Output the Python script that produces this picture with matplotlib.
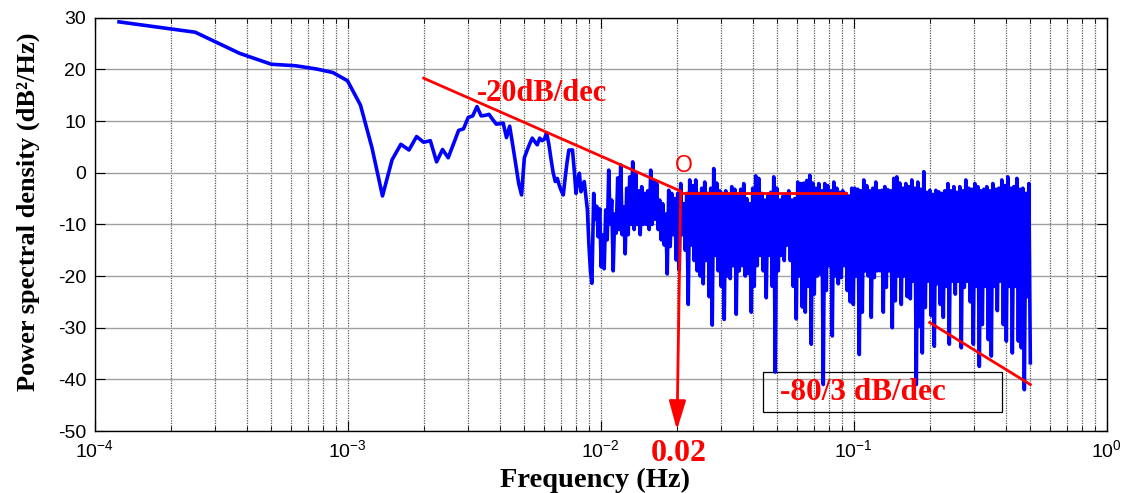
import numpy as np
import matplotlib
matplotlib.use("Agg")
import matplotlib.pyplot as plt
from matplotlib.patches import Rectangle, FancyArrowPatch
from matplotlib.ticker import LogLocator, NullFormatter
from matplotlib.transforms import blended_transform_factory

plt.rcParams["font.family"] = ["Liberation Sans", "DejaVu Sans"]
plt.rcParams["mathtext.fontset"] = "custom"
plt.rcParams["mathtext.rm"] = "Liberation Sans"
plt.rcParams["mathtext.it"] = "Liberation Sans:italic"
plt.rcParams["mathtext.bf"] = "Liberation Sans:bold"
plt.rcParams["axes.unicode_minus"] = False
plt.rcParams["path.simplify"] = False  # keep every peak/trough of the dense spectrum

# ---------------------------------------------------------------- data
DF = 1.25e-4  # frequency resolution of the periodogram (Hz)

# resolved part of the spectrum, one value per bin (bins 1..74), dB^2/Hz
psd_low_db = [
    29.2, 27.2, 23.1, 21.0, 20.7, 20.1, 19.4, 17.8, 13.1, 4.8,
    -4.5, 2.5, 5.5, 4.4, 7.0, 5.9, 6.2, 2.1, 4.5, 2.9,
    5.6, 8.2, 8.5, 10.7, 11.0, 12.8, 11.0, 11.1, 11.3, 10.3,
    9.4, 9.5, 9.6, 6.8, 9.0, 5.3, 1.6, -2.1, -4.3, 2.9,
    4.3, 5.6, 6.7, 6.0, 5.4, 6.7, 6.2, 6.5, 7.7, 5.5,
    2.6, 0.0, -1.7, -1.1, -2.5, -3.5, -4.3, -1.0, 2.0, 4.4,
    4.4, 4.4, 0.5, -4.0, -1.5, -0.1, -3.7, -2.7, -1.7, -4.5,
    -7.2, -14.0, -19.0, -21.4,
]

# dense part (0.0094 .. 0.5 Hz): alternating local maxima / minima
band_f_start, band_f_stop = 0.0094, 0.5
band_peak_db = [
    -4.0, -6.5, -7.0, -12.0, -7.2, 0.5, -5.3, -8.0, -1.0, 1.5,
    -6.6, -3.0, -0.8, 2.1, 0.0, -3.5, -2.7, -4.0, -3.5, 0.5,
    -1.5, -2.1, -5.3, -6.0, -8.0, -3.4, -4.0, -5.0, -4.0, -2.1,
    -6.0, -4.0, -1.4,
    -2.5, -1.4, -4.0, -3.0, -1.8, -4.0, -3.0, 0.8, -2.0, -3.5,
    -4.0, -3.5, -4.2, -2.7, -3.2, -4.5, -3.2, -2.1, -5.0, -6.0,
    -3.0, -0.6, -1.1, -4.0, -5.3, -4.5, -3.8, -0.8, -3.0, -5.3,
    -4.6, -4.5, -3.5, -5.3, -5.0, -1.8, -2.1,
    -2.0, -1.5, -0.5, -2.0, -3.0, -2.1, -3.5, -2.1, -2.5, -3.5,
    -1.8, -3.0, -3.8, -3.5, -4.0, -4.5, -3.0, -3.0, -3.2, -3.5,
    -1.4, -2.5, -3.5, -3.0, -1.8, -3.5, -3.4, -2.7, -3.3, -3.5,
    -1.1, -0.8, -2.0, -3.0, -2.1,
    -2.7, -1.4, -3.0, -1.8, -3.2, 0.2, -3.8, -3.4, -4.2, -3.4,
    -3.7, -4.0, -3.5, -2.1, -3.5, -2.7, -3.8, -2.7, -3.5, -1.4,
    -3.0, -3.2, -2.1, -2.7, -3.5, -3.2, -2.7, -3.5, -2.1, -3.2,
    -3.0, -1.4, -2.5, -0.8, -3.0, -2.7, -1.1, -3.2, -3.0, -4.0,
    -2.1,
]
band_trough_db = [
    -9.0, -12.4, -18.2, -18.6, -13.0, -10.0, -19.0, -11.7, -11.0, -12.0,
    -15.7, -12.0, -10.0, -11.0, -10.0, -12.0, -10.0, -10.0, -11.0, -10.0,
    -9.0, -11.0, -13.0, -14.0, -19.6, -14.3, -12.0, -16.9, -18.8, -12.0,
    -15.0, -25.5, -14.0,
    -17.0, -19.0, -20.0, -21.5, -17.0, -24.0, -29.5, -16.0, -19.0, -22.0,
    -28.4, -20.0, -20.5, -18.0, -27.4, -19.0, -18.0, -20.0, -19.5, -27.0,
    -22.0, -18.0, -16.0, -19.0, -24.2, -16.0, -22.0, -38.6, -19.0, -16.0,
    -17.0, -14.0, -17.0, -22.0, -28.3, -20.0, -26.0,
    -27.0, -22.0, -33.2, -23.5, -20.0, -19.6, -41.0, -22.8, -18.0, -31.6,
    -20.0, -21.5, -20.3, -18.0, -22.8, -25.0, -25.5, -20.0, -35.2, -27.0,
    -19.0, -20.0, -28.0, -20.3, -19.0, -19.0, -27.0, -22.2, -19.0, -30.0,
    -24.8, -20.0, -25.5, -20.0, -24.0,
    -24.4, -21.0, -41.0, -29.7, -34.9, -26.1, -21.0, -27.7, -33.6, -21.5,
    -25.5, -28.0, -22.0, -33.2, -21.0, -23.5, -21.0, -33.9, -22.2, -21.0,
    -25.0, -33.2, -22.0, -37.5, -29.4, -22.0, -32.3, -35.5, -22.0, -26.7,
    -21.0, -29.4, -32.6, -22.0, -34.9, -22.0, -32.6, -33.9, -42.0, -24.0,
    -36.8,
]

# asymptotes drawn on the spectrum
slope20_f, slope20_db = [0.002, 0.0207], [18.3, -3.55]
flat_f, flat_db = [0.0209, 0.0933], [-3.9, -3.9]
slope80_f, slope80_db = [0.2, 0.5], [-29.0, -41.0]
corner_f = 0.02

x_ticks_decades = [1e-4, 1e-3, 1e-2, 1e-1, 1e0]
y_ticks = [-50, -40, -30, -20, -10, 0, 10, 20, 30]

# ---------------------------------------------------------------- assemble spectrum
f_low = np.arange(1, len(psd_low_db) + 1) * DF
n_band = len(band_peak_db)
f_band = np.geomspace(band_f_start, band_f_stop, 2 * n_band)
band_db = np.empty(2 * n_band)
band_db[0::2] = band_peak_db
band_db[1::2] = band_trough_db
freq = np.concatenate([f_low, f_band])
psd = np.concatenate([psd_low_db, band_db])

# ---------------------------------------------------------------- figure
fig = plt.figure(figsize=(11.28, 4.93), dpi=100)
ax = fig.add_axes([94.5 / 1128, 62 / 493, 1012 / 1128, 413.25 / 493])

ax.set_xscale("log")
ax.set_xlim(1e-4, 1)
ax.set_ylim(-50, 30)
ax.set_xticks(x_ticks_decades)
ax.set_yticks(y_ticks)
ax.xaxis.set_minor_locator(LogLocator(base=10, subs=np.arange(2, 10), numticks=100))
ax.xaxis.set_minor_formatter(NullFormatter())

ax.grid(True, which="both", axis="x", color="#5a5a5a", ls=(0, (1, 1)), lw=0.9)
ax.grid(True, which="major", axis="y", color="#a0a0a0", ls="-", lw=1.0)
ax.set_axisbelow(True)

ax.tick_params(which="both", direction="in", top=True, right=True, colors="black")
ax.tick_params(which="major", length=7, width=0.8, labelsize=14, pad=6)
ax.tick_params(which="minor", length=3.5, width=0.6)
for sp in ax.spines.values():
    sp.set_linewidth(1.0)
    sp.set_color("black")

ax.plot(freq, psd, color="#0000ff", lw=2.6, zorder=3)

red = "#ff0000"
ax.plot(slope20_f, slope20_db, color=red, lw=2.0, zorder=4)
ax.plot(flat_f, flat_db, color=red, lw=2.0, zorder=4)
ax.plot(slope80_f, slope80_db, color=red, lw=2.0, zorder=4)

arrow = FancyArrowPatch((0.02075, -3.6), (0.02006, -49.8),
                        arrowstyle="-|>,head_length=1.1,head_width=0.32",
                        mutation_scale=16, color=red, lw=2.0,
                        shrinkA=0, shrinkB=0, zorder=5, clip_on=False)
ax.add_patch(arrow)

serif_bold = dict(family="Liberation Serif", weight="bold")
ax.text(0.00585, 13.9, "-20dB/dec", color=red, fontsize=22, ha="center",
        va="baseline", zorder=6, **serif_bold)
ax.text(0.02138, 0.2, "O", color=red, fontsize=16.5, ha="center",
        va="baseline", zorder=6, family="Liberation Sans")

ax.add_patch(Rectangle((0.044, -46.4), 0.388 - 0.044, 7.8, fill=False,
                       ec="black", lw=0.9, zorder=2))
ax.text(0.1093, -44.0, "-80/3 dB/dec", color=red, fontsize=22.5, ha="center",
        va="baseline", zorder=6, **serif_bold)

trans = blended_transform_factory(ax.transData, ax.transAxes)
ax.text(0.0204, -0.055, "0.02", transform=trans, color=red, fontsize=23,
        ha="center", va="center", clip_on=False, **serif_bold)

ax.set_xlabel("Frequency (Hz)", fontsize=20.5, **serif_bold)
ax.xaxis.set_label_coords(0.4946, -0.088)
ax.xaxis.label.set_verticalalignment("top")
ax.set_ylabel("Power spectral density (dB\u00b2/Hz)", fontsize=19, **serif_bold)
ax.yaxis.set_label_coords(-0.054, 0.53)

fig.savefig("out.png", dpi=100, facecolor="white")
